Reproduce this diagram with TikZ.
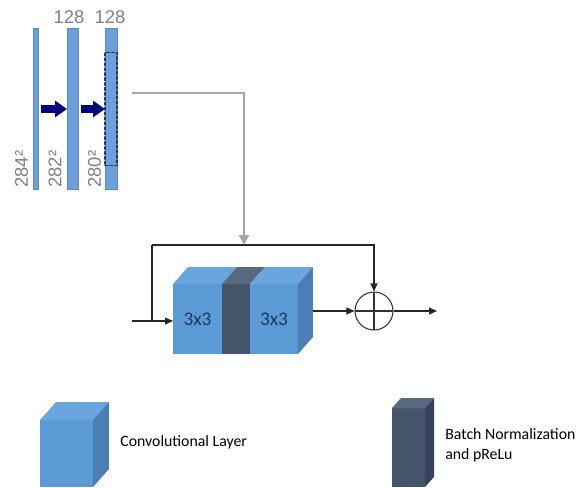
\documentclass[tikz,border=0pt]{standalone}
\usepackage{fontspec}
\setmainfont{Carlito}
\newfontfamily\arialfont{Liberation Sans}
\usepackage{tikz}
\usetikzlibrary{positioning,calc,arrows.meta}
\usepackage{xcolor}
\definecolor{convblue}{HTML}{5B9BD5}
\definecolor{convtop}{HTML}{6AA5DD}
\definecolor{convside}{HTML}{4A7EB5}
\definecolor{bnslate}{HTML}{44546A}
\definecolor{bntop}{HTML}{58687F}
\definecolor{bnside}{HTML}{36445A}
\definecolor{barblue}{HTML}{6E9FD8}
\definecolor{barline}{HTML}{5A8AC6}
\definecolor{roinavy}{HTML}{203864}
\definecolor{textnavy}{HTML}{1F3864}
\definecolor{labgray}{HTML}{808080}
\definecolor{feedgray}{HTML}{A6A6A6}
\definecolor{arrownavy}{HTML}{000080}

\begin{document}
\begin{tikzpicture}[x=0.02cm,y=-0.02cm,
    face/.style={rectangle,inner sep=0pt,outer sep=0pt,minimum height=1.4cm,font=\fontsize{11}{13}\selectfont,text=textnavy},
    conv/.style={face,fill=convblue},
    bnorm/.style={face,fill=bnslate},
    bar/.style={rectangle,draw=barline,fill=barblue,inner sep=0pt,outer sep=0pt,minimum height=3.22cm},
    dimlab/.style={font=\arialfont\fontsize{10.5}{12}\selectfont,text=labgray,inner sep=0pt},
    fat/.style={draw=arrownavy,line width=4.5pt,-{Triangle[width=0.32cm,length=0.24cm]},shorten <=0.06cm},
    flow/.style={draw=black!85,line width=0.6pt,-{Triangle[width=0.14cm,length=0.16cm]}},
    link/.style={draw=black!85,line width=0.6pt},
    feed/.style={draw=feedgray,line width=1.3pt,-{Triangle[width=0.2cm,length=0.2cm]}},
    legend/.style={font=\fontsize{9}{11.3}\selectfont,align=left,anchor=west,inner sep=0pt}]

\useasboundingbox (0,0) rectangle (581,487);

% feature maps
\node[bar,minimum width=0.1cm] (bar1) at (35.5,109) {};
\node[bar,minimum width=0.22cm] (bar2) at (72.5,109) {};
\node[bar,minimum width=0.24cm] (bar3) at (111,109) {};
\node[rectangle,draw=roinavy,line width=1.1pt,dash pattern=on 1.4pt off 1.4pt,line cap=round,
      minimum width=0.24cm,minimum height=2.26cm,inner sep=0pt] (roi) at (bar3) {};

\node[dimlab] (ch2) at (69,17) {128};
\node[dimlab] (ch3) at (110,17) {128};
\node[dimlab,rotate=90,anchor=west] (sz1) at (21.5,188) {284²};
\node[dimlab,rotate=90,anchor=west] (sz2) at (55,188) {282²};
\node[dimlab,rotate=90,anchor=west] (sz3) at (94.5,188) {280²};

\draw[fat] (bar1.east) -- (bar2.west);
\draw[fat] (bar2.east) -- (bar3.west);

% residual block
\node[conv,minimum width=0.98cm] (conv1) at (197.5,319) {3x3};
\node[bnorm,minimum width=0.56cm,right=0pt of conv1] (bn) {};
\node[conv,minimum width=0.96cm,right=0pt of bn] (conv2) {3x3};

\fill[convtop] (conv1.north west) -- ++(15,-17) -- ($(conv1.north east)+(15,-17)$) -- (conv1.north east) -- cycle;
\fill[bntop] (bn.north west) -- ++(15,-17) -- ($(bn.north east)+(15,-17)$) -- (bn.north east) -- cycle;
\fill[convtop] (conv2.north west) -- ++(15,-17) -- ($(conv2.north east)+(15,-17)$) -- (conv2.north east) -- cycle;
\fill[convside] (conv2.north east) -- ++(15,-17) -- ($(conv2.south east)+(15,-17)$) -- (conv2.south east) -- cycle;

\node[circle,draw=black!80,line width=0.6pt,minimum size=0.76cm,inner sep=0pt,
      path picture={\draw[black!80,line width=0.6pt]
        (path picture bounding box.north) -- (path picture bounding box.south)
        (path picture bounding box.west) -- (path picture bounding box.east);}] (sum) at (374,311) {};

\coordinate (in) at (132,321);
\coordinate (split) at (152,321);
\coordinate (corner) at (152,245);
\coordinate (merge) at (244,245);
\coordinate (blockout) at ($(conv2.east)+(15,-8)$);
\coordinate (out) at (437,311);
\coordinate (tap) at (132,93);

\draw[flow] (in) -- (in -| conv1.west);
\draw[link] (split) -- (corner);
\draw[flow] (corner) -| (sum.north);
\draw[flow] (blockout) -- (sum.west);
\draw[flow] (sum.east) -- (out);
\draw[feed] (tap) -| (merge);

% legend
\node[conv,minimum width=1.06cm,minimum height=1.34cm] (legconv) at (66.5,453.5) {};
\fill[convtop] (legconv.north west) -- ++(16,-18) -- ($(legconv.north east)+(16,-18)$) -- (legconv.north east) -- cycle;
\fill[convside] (legconv.north east) -- ++(16,-18) -- ($(legconv.south east)+(16,-18)$) -- (legconv.south east) -- cycle;
\node[legend] (legconvtext) at (120,442) {Convolutional Layer};

\node[bnorm,minimum width=0.66cm,minimum height=1.58cm] (legbn) at (408.5,447.5) {};
\fill[bntop] (legbn.north west) -- ++(9,-10) -- ($(legbn.north east)+(9,-10)$) -- (legbn.north east) -- cycle;
\fill[bnside] (legbn.north east) -- ++(9,-10) -- ($(legbn.south east)+(9,-10)$) -- (legbn.south east) -- cycle;
\node[legend] (legbntext) at (445,445) {Batch Normalization\\and pReLu};

\end{tikzpicture}
\end{document}
